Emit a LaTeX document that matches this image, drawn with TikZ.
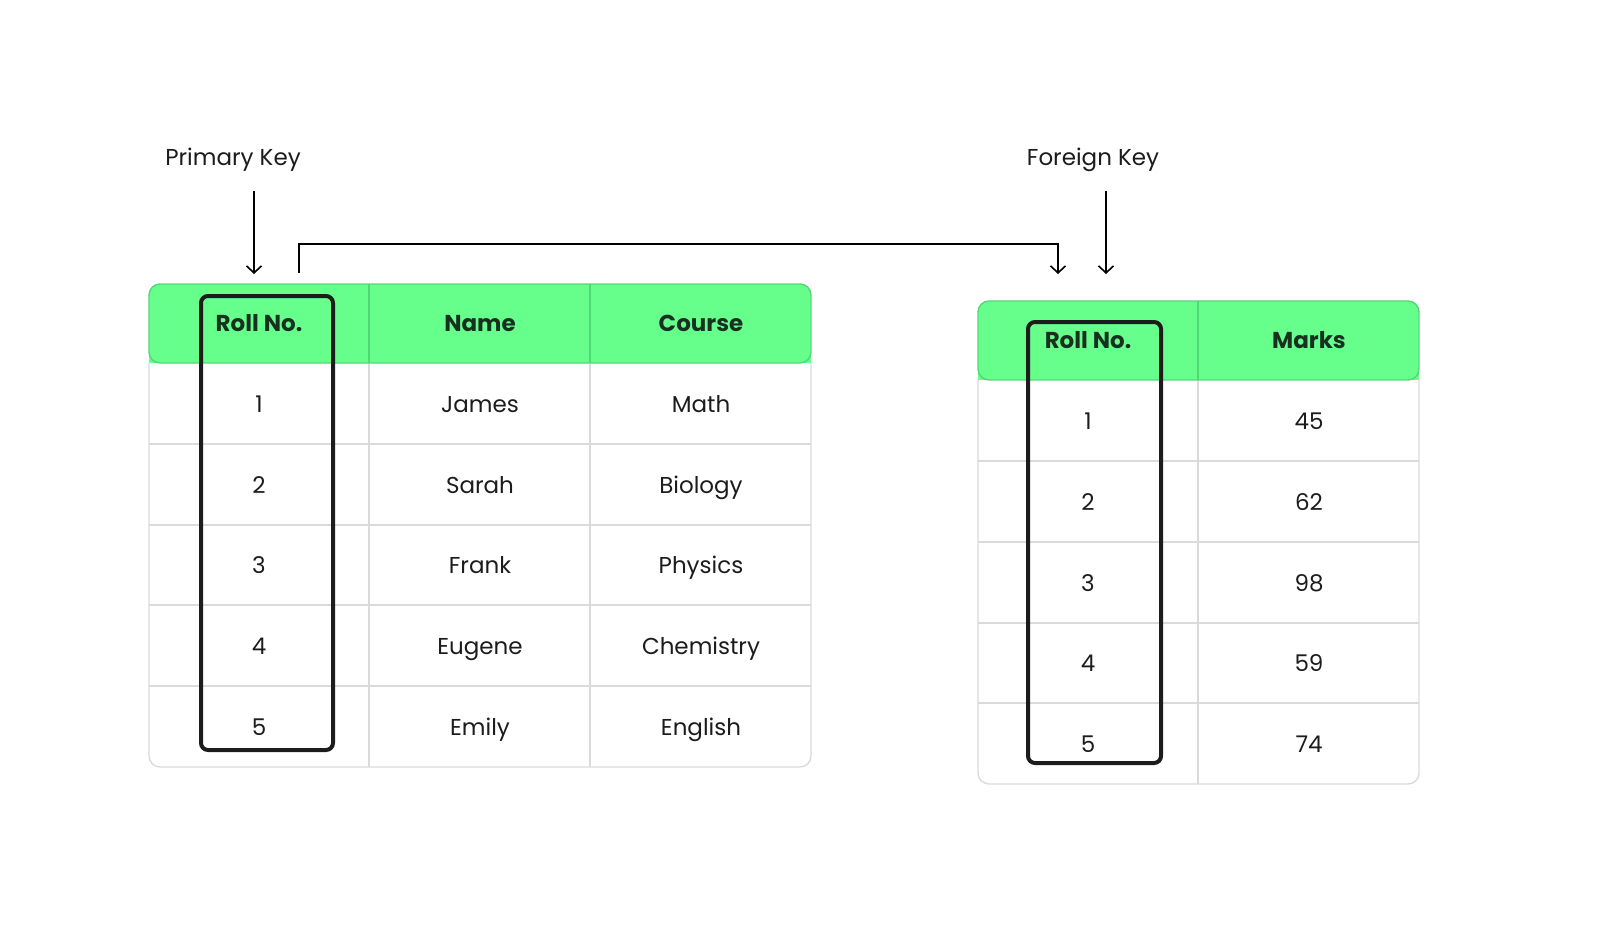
\documentclass[tikz,border=0pt]{standalone}
\usepackage{fontspec}
\setmainfont{Poppins}
\usepackage{tikz}
\usetikzlibrary{arrows.meta}
\definecolor{headgreen}{HTML}{66FF8C}
\definecolor{headline}{HTML}{55D676}
\definecolor{gridgray}{HTML}{DADADA}
\definecolor{headtext}{HTML}{173020}
\definecolor{bodytext}{HTML}{1C1C1C}
\tikzset{
	cell/.style={inner sep=0pt,text height=16pt,text depth=0pt,text=bodytext,font=\fontsize{23}{27}\selectfont},
	hcell/.style={inner sep=0pt,text height=16.5pt,text depth=0pt,text=headtext,font=\fontsize{23}{27}\selectfont\bfseries},
	keylabel/.style={inner sep=0pt,text height=16pt,text depth=0pt,text=bodytext,font=\fontsize{23}{27}\selectfont},
	keyarrow/.style={line width=1.6pt,-{Straight Barb[length=7pt,width=15pt,line width=1.6pt]}},
	keybox/.style={line width=4pt,draw=bodytext,rounded corners=7pt},
	grid/.style={line width=1.4pt,draw=gridgray}
}
\begin{document}
\begin{tikzpicture}[x=1pt,y=-1pt]
	\useasboundingbox (0,0) rectangle (1600,952);

	% students table
	\begin{scope}
		\clip [rounded corners=11pt] (149,284) rectangle (811,767);
		\fill [headgreen] (149,284) rectangle (811,363);
	\end{scope}
	\draw [grid] (369,363) -- (369,767);
	\draw [grid] (590,363) -- (590,767);
	\draw [grid] (149,444) -- (811,444);
	\draw [grid] (149,525) -- (811,525);
	\draw [grid] (149,605) -- (811,605);
	\draw [grid] (149,686) -- (811,686);
	\draw [grid,rounded corners=11pt] (149,363) -- (149,767) -- (811,767) -- (811,363);
	\draw [headline,line width=1.4pt,rounded corners=11pt] (149,363) -- (149,284) -- (811,284) -- (811,363) -- cycle;
	\draw [headline,line width=1.4pt] (369,284) -- (369,363);
	\draw [headline,line width=1.4pt] (590,284) -- (590,363);

	\node [hcell] (sroll) at (259,323) {Roll No.};
	\node [hcell] (sname) at (480,323) {Name};
	\node [hcell] (scourse) at (701,323) {Course};
	\node [cell] (s1) at (259,404) {1};
	\node [cell] (s2) at (259,485) {2};
	\node [cell] (s3) at (259,565) {3};
	\node [cell] (s4) at (259,646) {4};
	\node [cell] (s5) at (259,727) {5};
	\node [cell] (n1) at (480,404) {James};
	\node [cell] (n2) at (480,485) {Sarah};
	\node [cell] (n3) at (480,565) {Frank};
	\node [cell] (n4) at (480,646) {Eugene};
	\node [cell] (n5) at (480,727) {Emily};
	\node [cell] (c1) at (701,404) {Math};
	\node [cell] (c2) at (701,485) {Biology};
	\node [cell] (c3) at (701,565) {Physics};
	\node [cell] (c4) at (701,646) {Chemistry};
	\node [cell] (c5) at (701,727) {English};
	\draw [keybox] (201,296) rectangle (333,750);

	% marks table
	\begin{scope}
		\clip [rounded corners=11pt] (978,301) rectangle (1419,784);
		\fill [headgreen] (978,301) rectangle (1419,380);
	\end{scope}
	\draw [grid] (1198,380) -- (1198,784);
	\draw [grid] (978,461) -- (1419,461);
	\draw [grid] (978,542) -- (1419,542);
	\draw [grid] (978,623) -- (1419,623);
	\draw [grid] (978,703) -- (1419,703);
	\draw [grid,rounded corners=11pt] (978,380) -- (978,784) -- (1419,784) -- (1419,380);
	\draw [headline,line width=1.4pt,rounded corners=11pt] (978,380) -- (978,301) -- (1419,301) -- (1419,380) -- cycle;
	\draw [headline,line width=1.4pt] (1198,301) -- (1198,380);

	\node [hcell] (mroll) at (1088,340) {Roll No.};
	\node [hcell] (mmarks) at (1309,340) {Marks};
	\node [cell] (r1) at (1088,421) {1};
	\node [cell] (r2) at (1088,502) {2};
	\node [cell] (r3) at (1088,583) {3};
	\node [cell] (r4) at (1088,663) {4};
	\node [cell] (r5) at (1088,744) {5};
	\node [cell] (m1) at (1309,421) {45};
	\node [cell] (m2) at (1309,502) {62};
	\node [cell] (m3) at (1309,583) {98};
	\node [cell] (m4) at (1309,663) {59};
	\node [cell] (m5) at (1309,744) {74};
	\draw [keybox] (1028,322) rectangle (1161,763);

	% key labels and arrows
	\node [keylabel] (pk) at (233,158) {Primary Key};
	\node [keylabel] (fk) at (1093,158) {Foreign Key};
	\coordinate (pktop) at (254,191);
	\coordinate (pktip) at (254,274);
	\coordinate (fktop) at (1106,191);
	\coordinate (fktip) at (1106,274);
	\coordinate (linkout) at (299,273);
	\coordinate (linkbend) at (299,244);
	\coordinate (linkin) at (1058,274);
	\draw [keyarrow] (pktop) -- (pktip);
	\draw [keyarrow] (fktop) -- (fktip);
	\draw [keyarrow] (linkout) -- (linkbend) -| (linkin);
\end{tikzpicture}
\end{document}
